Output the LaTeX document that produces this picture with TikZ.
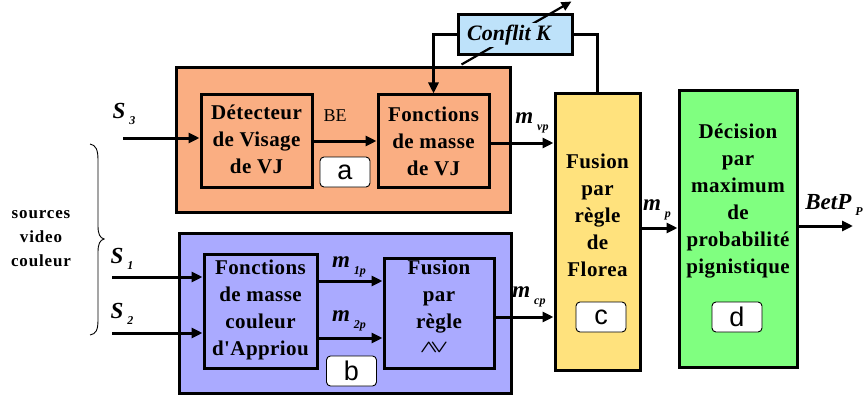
\documentclass[tikz,border=0pt]{standalone}
\usepackage{graphicx}
\usepackage{fontspec}
\setmainfont{Liberation Serif}
\newfontfamily\boxfont[LetterSpace=2]{Liberation Serif}
\newfontfamily\srcfont[LetterSpace=5]{Liberation Serif}
\newfontfamily\lsans{Liberation Sans}
\usetikzlibrary{arrows.meta}
\definecolor{orangef}{RGB}{250,174,130}
\definecolor{bluef}{RGB}{170,170,255}
\definecolor{yellowf}{RGB}{255,226,125}
\definecolor{greenf}{RGB}{128,255,128}
\definecolor{conff}{RGB}{190,226,250}
\newcommand\lbl[2]{\textbf{\textit{#1}}\,\raisebox{-0.6ex}{\fontsize{12}{12}\selectfont\textbf{\textit{#2}}}}
\begin{document}
\begin{tikzpicture}[x=1pt,y=-1pt,
 box/.style={draw, line width=3pt, inner sep=0pt},
 txt/.style={font=\boxfont\fontsize{21}{27}\selectfont\bfseries, align=center, inner sep=0pt},
 tag/.style={draw, line width=0.9pt, rounded corners=4pt, fill=white, font=\lsans\fontsize{27}{27}\selectfont, minimum width=50pt, minimum height=30pt, inner sep=0pt},
 arr/.style={line width=3pt, -{Triangle[length=11pt,width=10pt]}},
 ln/.style={line width=3pt},
 lab/.style={font=\fontsize{23}{23}\selectfont, inner sep=0pt}]
\useasboundingbox (0,0) rectangle (863,396);
% outer boxes
\node[box, fill=orangef, minimum width=334pt, minimum height=144pt] (orange) at (343,140) {};
\node[box, fill=bluef, minimum width=332pt, minimum height=160pt] (blue) at (345,313) {};
\node[box, fill=yellowf, minimum width=85pt, minimum height=276pt] (yel) at (597.5,232) {};
\node[box, fill=greenf, minimum width=118pt, minimum height=276pt] (green) at (738,229) {};
% inner boxes
\node[box, minimum width=111pt, minimum height=92pt] (det) at (256.5,141) {};
\node[box, minimum width=111pt, minimum height=92pt] (fvj) at (433.5,141) {};
\node[box, minimum width=113pt, minimum height=114pt] (fc) at (260.5,311) {};
\node[box, minimum width=110pt, minimum height=110pt] (fr) at (439,313) {};
% texts
\node[txt] (tdet) at (256.5,139) {Détecteur\\de Visage\\de VJ};
\node[txt] (tfvj) at (433.5,141) {Fonctions\\de masse\\de VJ};
\node[txt] (tfc) at (260.5,310) {Fonctions\\de masse\\couleur\\d'Appriou};
\node[txt] (tfr) at (439,297) {Fusion\\par\\règle};
\node[font=\fontsize{19}{19}\selectfont, inner sep=0pt] (wv) at (434,348) {\scalebox{1.35}[1]{\boldmath$\wedge\mkern-5mu\vee$}};
\node[txt] (tyel) at (597.5,215) {Fusion\\par\\règle\\de\\Florea};
\node[txt] (tgreen) at (738,201) {Décision\\par\\maximum\\de\\probabilité\\pignistique};
% tags
\node[tag] (ta) at (345,172) {a};
\node[tag] (tb) at (351.5,371) {b};
\node[tag] (tc) at (601,317) {c};
\node[tag] (td) at (737,317) {d};
% conflict
\node[box, fill=conff, minimum width=114pt, minimum height=40pt] (conf) at (515,35) {};
\draw[line width=2.2pt, -{Triangle[length=10pt,width=9pt]}] ([shift={(5,8)}]conf.south west) -- ([shift={(-2,-12)}]conf.north east);
\node[fill=conff, inner sep=2pt, font=\fontsize{22}{22}\selectfont\bfseries\itshape] (tconf) at (509,35) {Conflit K};
\draw[arr] (conf.west) -| (fvj.north);
\draw[ln] (yel.north) |- (conf.east);
% inputs
\coordinate (s3) at (123,138);
\coordinate (s1) at (112,277);
\coordinate (s2) at (112,333);
\coordinate (out) at (853,226);
\draw[arr] (s3) -- (s3 -| det.west);
\draw[arr] (s1) -- (s1 -| fc.west);
\draw[arr] (s2) -- (s2 -| fc.west);
\draw[arr] (det) -- (fvj);
\draw[arr] (fc.east |- 0,281) -- (fr.west |- 0,281);
\draw[arr] (fc.east |- 0,338) -- (fr.west |- 0,338);
\draw[arr] (fvj.east |- 0,143) -- (yel.west |- 0,143);
\draw[arr] (fr.east |- 0,317) -- (yel.west |- 0,317);
\draw[arr] (yel.east |- 0,228) -- (green.west |- 0,228);
\draw[arr] (green.east |- out) -- (out);
% labels
\node[lab] (ls3) at (124,114) {\lbl{S}{3}};
\node[lab] (ls1) at (122,259) {\lbl{S}{1}};
\node[lab] (ls2) at (122,314) {\lbl{S}{2}};
\node[lab] (lvp) at (532,123) {\lbl{m}{vp}};
\node[lab] (lcp) at (529,297) {\lbl{m}{cp}};
\node[lab] (lp) at (657,210) {\lbl{m}{p}};
\node[lab] (lbet) at (834,205) {\lbl{BetP}{P}};
\node[lab] (l1p) at (349,267) {\lbl{m}{1p}};
\node[lab] (l2p) at (349,321) {\lbl{m}{2p}};
\node[font=\fontsize{18}{18}\selectfont, inner sep=0pt] (lbe) at (335,116) {BE};
% brace
\draw[line width=0.9pt] (90,144) .. controls (96,145) and (98,150) .. (98,160) -- (98,226) .. controls (98,234) and (100,238) .. (104,239) .. controls (100,240) and (98,244) .. (98,252) -- (98,320) .. controls (98,330) and (96,334) .. (90,335);
\node[font=\srcfont\fontsize{17}{24}\selectfont\bfseries, align=center, inner sep=0pt] (src) at (41,239) {sources\\video\\couleur};
\end{tikzpicture}
\end{document}
